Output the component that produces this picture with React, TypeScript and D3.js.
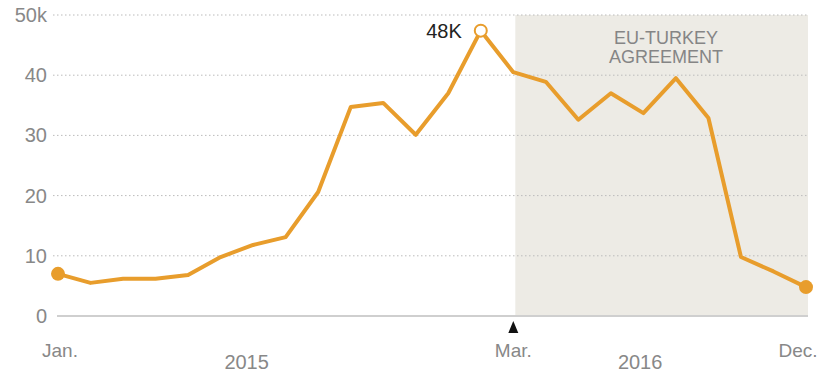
import React from "react";
import * as d3 from "d3";

const months: number[] = d3.range(24);
const values: number[] = [
  7.0, 5.5, 6.2, 6.2, 6.8, 9.8, 11.8, 13.1, 20.6, 34.7, 35.4, 30.1, 37.0, 47.4,
  40.5, 38.9, 32.6, 37.0, 33.7, 39.5, 32.9, 9.8, 7.4, 4.8,
];
const yTicks: number[] = [0, 10, 20, 30, 40, 50];
const yTickLabels: string[] = ["0", "10", "20", "30", "40", "50k"];
const monthLabels = [
  { i: 0, label: "Jan." },
  { i: 14, label: "Mar." },
  { i: 23, label: "Dec." },
];
const yearLabels = [
  { i: 5.8, label: "2015" },
  { i: 17.9, label: "2016" },
];
const peakIndex = 13;
const peakLabel = "48K";
const shadeStart = 14;
const annotation = ["EU-TURKEY", "AGREEMENT"];

const W = 820;
const H = 374;
const ORANGE = "#E89D2C";
const FONT = "'Liberation Sans', Arial, sans-serif";

export default function App() {
  const x = d3.scaleLinear().domain([0, 23]).range([58, 806]);
  const y = d3.scaleLinear().domain([0, 50]).range([316, 15]);
  const line = d3
    .line<number>()
    .x((_, i) => x(months[i]))
    .y((d) => y(d))
    .curve(d3.curveLinear);

  return (
    <svg
      width={W}
      height={H}
      style={{ position: "absolute", left: 0, top: 0, background: "#fff" }}
    >
      <rect
        x={x(shadeStart) + 2}
        y={y(50)}
        width={808 - x(shadeStart) - 2}
        height={y(0) - y(50)}
        fill="#EDEBE5"
      />
      {yTicks.map((t) =>
        t === 0 ? null : (
          <line
            key={"g" + t}
            x1={53}
            x2={807}
            y1={y(t)}
            y2={y(t)}
            stroke="#bbb"
            strokeWidth={1}
            strokeDasharray="1.5,2.5"
          />
        )
      )}
      <line x1={57} x2={808} y1={y(0)} y2={y(0)} stroke="#cfcfcf" strokeWidth={2} />
      {yTicks.map((t, k) => (
        <text
          key={"yl" + t}
          x={47}
          y={y(t)}
          dy="0.35em"
          textAnchor="end"
          fontFamily={FONT}
          fontSize={20}
          fill="#888"
        >
          {yTickLabels[k]}
        </text>
      ))}
      {annotation.map((s, k) => (
        <text
          key={"a" + k}
          x={666}
          y={38 + k * 19}
          dy="0.35em"
          textAnchor="middle"
          fontFamily={FONT}
          fontSize={18}
          fill="#858585"
        >
          {s}
        </text>
      ))}
      <path
        d={line(values) || ""}
        fill="none"
        stroke={ORANGE}
        strokeWidth={4}
        strokeLinejoin="round"
        strokeLinecap="round"
      />
      <circle cx={x(0)} cy={y(values[0])} r={7} fill={ORANGE} />
      <circle cx={x(23)} cy={y(values[23])} r={7} fill={ORANGE} />
      <circle
        cx={x(peakIndex)}
        cy={y(values[peakIndex])}
        r={6}
        fill="#fff"
        stroke={ORANGE}
        strokeWidth={2}
      />
      <text
        x={x(peakIndex) - 19}
        y={y(values[peakIndex])}
        dy="0.35em"
        textAnchor="end"
        fontFamily={FONT}
        fontSize={20}
        fill="#222"
      >
        {peakLabel}
      </text>
      <path
        d={`M${x(shadeStart)},321 L${x(shadeStart) - 5},333 L${x(shadeStart) + 5},333 Z`}
        fill="#111"
      />
      {monthLabels.map((m) => (
        <text
          key={m.label}
          x={x(m.i) + (m.i === 0 ? 2 : m.i === 23 ? -8 : 0)}
          y={350}
          dy="0.35em"
          textAnchor="middle"
          fontFamily={FONT}
          fontSize={19}
          fill="#888"
        >
          {m.label}
        </text>
      ))}
      {yearLabels.map((m) => (
        <text
          key={m.label}
          x={x(m.i)}
          y={362}
          dy="0.35em"
          textAnchor="middle"
          fontFamily={FONT}
          fontSize={20}
          fill="#888"
        >
          {m.label}
        </text>
      ))}
    </svg>
  );
}
